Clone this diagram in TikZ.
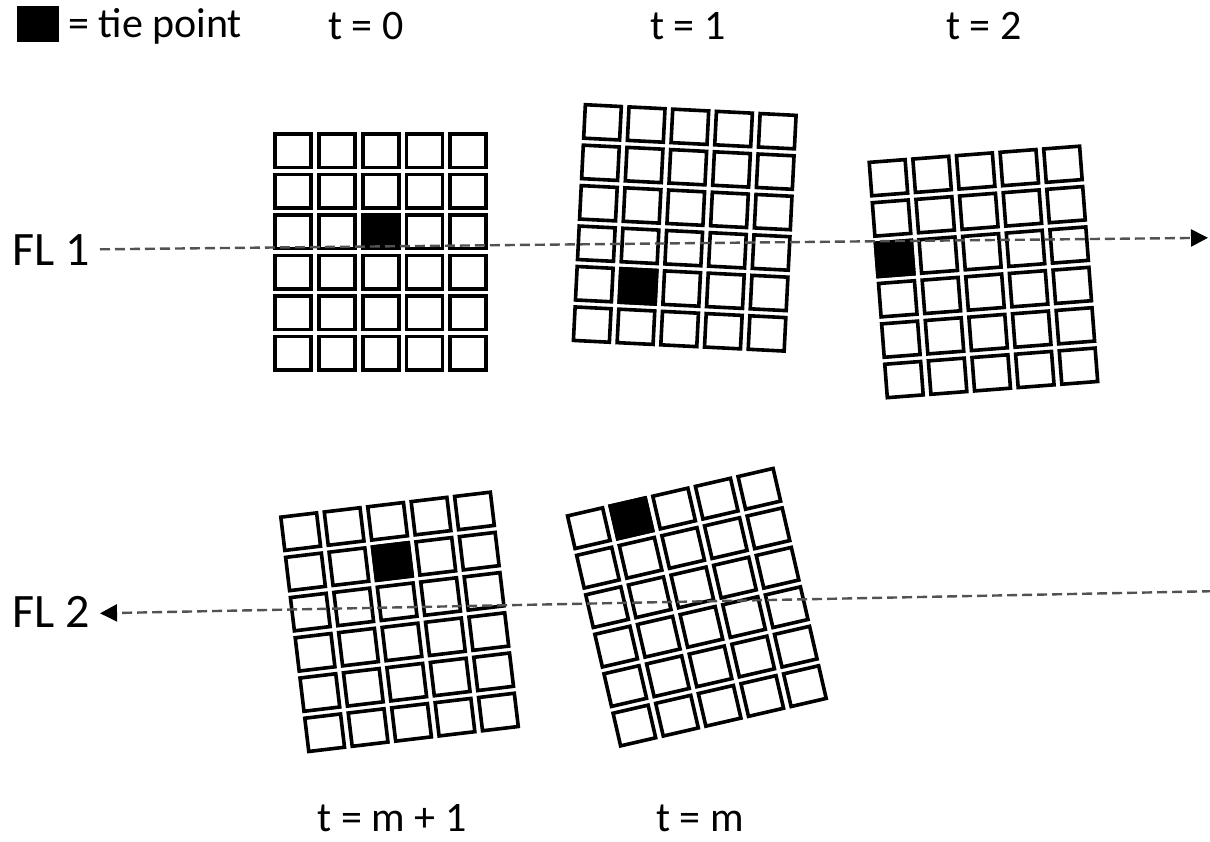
\documentclass[tikz,border=0pt]{standalone}
\usepackage{fontspec}
\setmainfont{Carlito}
\usetikzlibrary{arrows.meta}
\newcommand\tpgrid[5]{% cx, cy, rotation, tie column, tie row
  \begin{scope}[shift={(#1,#2)},rotate=#3]
    \foreach \i in {0,...,4}{\foreach \j in {0,...,5}{
      \draw[cell] ({-105.75+\i*43.75},{-118+\j*40.5}) rectangle ++(36,33.5);
    }}
    \draw[tie] ({-105.75+#4*43.75},{-118+#5*40.5}) rectangle ++(36,33.5);
  \end{scope}}
\begin{document}
\begin{tikzpicture}[x=1pt,y=-1pt,
  cell/.style={draw=black,line width=3.6pt},
  tie/.style={draw=black,fill=black,line width=3.6pt},
  lbl/.style={inner sep=0pt,font=\fontsize{42}{50}\selectfont},
  fllbl/.style={inner sep=0pt,font=\fontsize{48}{56}\selectfont},
  flow/.style={draw=black!68,line width=2.4pt,dash pattern=on 10pt off 5pt,
    -{Triangle[length=17pt,width=17pt,color=black]}}]
\useasboundingbox[fill=white] (0,0) rectangle (1210,841);

% legend
\node[fill=black,minimum width=42pt,minimum height=36pt,inner sep=0pt,anchor=north west] (legsq) at (17,6) {};
\node[lbl,anchor=base west] (legtxt) at (68,37) {= tie point};

% time labels
\node[lbl,anchor=base] (t0) at (366,39) {t = 0};
\node[lbl,anchor=base] (t1) at (688,39) {t = 1};
\node[lbl,anchor=base] (t2) at (984,39) {t = 2};
\node[lbl,anchor=base] (tm1) at (392,831) {t = m + 1};
\node[lbl,anchor=base] (tm) at (700,831) {t = m};

% flight line labels
\node[fllbl,anchor=base west] (fl1) at (12,265) {FL 1};
\node[fllbl,anchor=base west] (fl2) at (12,627) {FL 2};

% image grids
\tpgrid{381}{251.8}{0}{2}{2}
\tpgrid{685}{227.9}{-2.9}{1}{4}
\tpgrid{983.7}{271.9}{4.4}{0}{2}
\tpgrid{399.8}{621.8}{6.8}{2}{1}
\tpgrid{697.1}{607.1}{13}{1}{0}

% flight lines
\coordinate (fl1s) at (100,249.3);
\coordinate (fl1e) at (1208,237.8);
\coordinate (fl2s) at (1212,591.2);
\coordinate (fl2e) at (100,613.3);
\draw[flow] (fl1s) -- (fl1e);
\draw[flow] (fl2s) -- (fl2e);
\end{tikzpicture}
\end{document}
